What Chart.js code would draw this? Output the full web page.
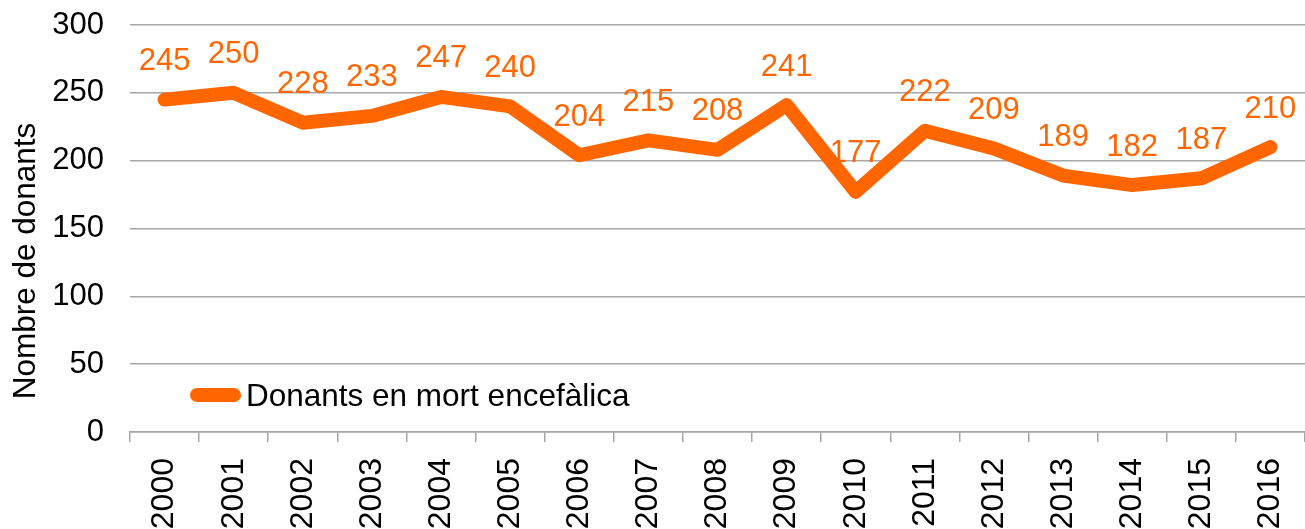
<!DOCTYPE html>
<html>
<head>
<meta charset="utf-8">
<script src="https://cdn.jsdelivr.net/npm/chart.js@4"></script>
<style>
  html, body { margin: 0; padding: 0; background: #fff; }
  #wrap { width: 1305px; height: 529px; }
</style>
</head>
<body>
<div id="wrap"><canvas id="chart" width="1305" height="529"></canvas></div>
<script>
// Data
const years = ["2000", "2001", "2002", "2003", "2004", "2005", "2006", "2007", "2008",
  "2009", "2010", "2011", "2012", "2013", "2014", "2015", "2016"];
const donants = [245, 250, 228, 233, 247, 240, 204, 215, 208, 241, 177, 222, 209, 189, 182, 187, 210];
const seriesName = "Donants en mort encefàlica";
const yTitle = "Nombre de donants";

const orange = "#ff6600";
const font = "'Liberation Sans', Arial, sans-serif";

// draws the number above each point
const valueLabels = {
  id: 'valueLabels',
  afterDatasetsDraw(chart) {
    const ctx = chart.ctx;
    const meta = chart.getDatasetMeta(0);
    ctx.save();
    ctx.font = "31px " + font;
    ctx.fillStyle = orange;
    ctx.textAlign = 'center';
    ctx.textBaseline = 'middle';
    meta.data.forEach((pt, i) => {
      ctx.fillText(String(donants[i]), pt.x, pt.y - 38);
    });
    ctx.restore();
  }
};

// legend inside the plot (lower left) + the y title, which sits a bit low
const extras = {
  id: 'extras',
  afterDraw(chart) {
    const ctx = chart.ctx;
    const a = chart.chartArea;
    const y = a.bottom - 37;
    const x0 = a.left + 67;
    ctx.save();
    ctx.strokeStyle = orange;
    ctx.lineWidth = 14;
    ctx.lineCap = 'round';
    ctx.beginPath();
    ctx.moveTo(x0, y);
    ctx.lineTo(x0 + 37, y);
    ctx.stroke();
    ctx.font = "31.5px " + font;
    ctx.fillStyle = '#000';
    ctx.textBaseline = 'middle';
    ctx.fillText(seriesName, x0 + 49, y + 2);

    // y axis title
    ctx.translate(26, a.bottom - 171);
    ctx.rotate(-Math.PI / 2);
    ctx.textAlign = 'center';
    ctx.font = "31.5px " + font;
    ctx.fillText(yTitle, 0, 0);
    ctx.restore();
  }
};

new Chart(document.getElementById('chart'), {
  type: 'line',
  data: {
    labels: years,
    datasets: [{
      label: seriesName,
      data: donants,
      borderColor: orange,
      backgroundColor: orange,
      borderWidth: 14,
      borderCapStyle: 'round',
      borderJoinStyle: 'round',
      pointRadius: 0,
      tension: 0
    }]
  },
  options: {
    responsive: false,
    animation: false,
    layout: { padding: 0 },
    plugins: {
      legend: { display: false },
      tooltip: { enabled: false }
    },
    scales: {
      x: {
        offset: true,
        grid: {
          offset: true,
          drawOnChartArea: false,
          drawTicks: true,
          tickLength: 10,
          color: '#a6a6a6',
          lineWidth: 1.5
        },
        border: { display: true, color: '#a6a6a6', width: 1.5 },
        ticks: {
          color: '#000',
          font: { family: font, size: 32 },
          minRotation: 90,
          maxRotation: 90,
          padding: 16
        },
        afterFit(scale) {
          scale.height = 97;
          scale.paddingLeft = 0;
          scale.paddingRight = 0;
        }
      },
      y: {
        min: 0,
        max: 300,
        ticks: {
          stepSize: 50,
          color: '#000',
          font: { family: font, size: 31 },
          padding: 26
        },
        grid: {
          drawTicks: false,
          color: '#a6a6a6',
          lineWidth: 1.5
        },
        border: { display: false },
        afterFit(scale) {
          scale.width = 130;
          scale.paddingTop = 25;
          scale.paddingBottom = 0;
        }
      }
    }
  },
  plugins: [valueLabels, extras]
});
</script>
</body>
</html>
